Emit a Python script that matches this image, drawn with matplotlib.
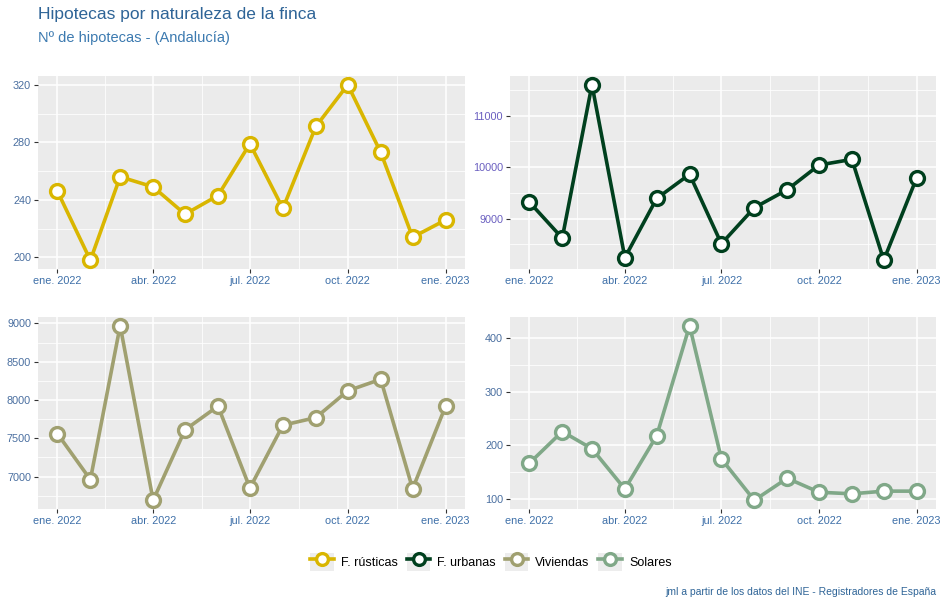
import numpy as np
import pandas as pd
import matplotlib
matplotlib.use("Agg")
import matplotlib.pyplot as plt
import matplotlib.dates as mdates
from matplotlib.lines import Line2D
from matplotlib.patches import Rectangle
from matplotlib.legend_handler import HandlerLine2D

plt.rcParams['font.family'] = ['Liberation Sans', 'DejaVu Sans']

meses = pd.date_range('2022-01-01', '2023-01-01', freq='MS')
tick_labels = ['ene. 2022', 'abr. 2022', 'jul. 2022', 'oct. 2022', 'ene. 2023']

rusticas = [246, 198, 256, 249, 230, 243, 279, 234, 291, 320, 273, 214, 226]
urbanas = [9320, 8620, 11600, 8240, 9390, 9860, 8510, 9210, 9560, 10040, 10150, 8190, 9790]
viviendas = [7560, 6960, 8970, 6690, 7610, 7920, 6850, 7670, 7770, 8120, 8270, 6840, 7920]
solares = [167, 226, 194, 119, 218, 423, 175, 98, 139, 113, 110, 115, 115]

series = ['F. rústicas', 'F. urbanas', 'Viviendas', 'Solares']
colores = ['#D9B600', '#00401E', '#A0A070', '#80A888']
ysteps = [40, 1000, 500, 100]

W, H = 944, 607
fig = plt.figure(figsize=(W/100, H/100), dpi=100)

# panel boxes in pixels (left, top, right, bottom)
boxes = [(38, 76, 465, 269), (510, 76, 936, 269), (38, 317, 465, 509), (510, 317, 936, 509)]
datos = [rusticas, urbanas, viviendas, solares]

xmaj = pd.to_datetime(['2022-01-01', '2022-04-01', '2022-07-01', '2022-10-01', '2023-01-01'])
xnum = mdates.date2num(xmaj)
xminor = [(xnum[i]+xnum[i+1])/2 for i in range(len(xnum)-1)]
x0, x1 = xnum[0], xnum[-1]
xpad = (x1-x0)*0.05

ylab_col = ['#4A6FA0', '#6A5FC0', '#4A6FA0', '#4A6FA0']

for i in range(4):
    l, t, r, b = boxes[i]
    ax = fig.add_axes([l/W, 1-b/H, (r-l)/W, (b-t)/H])
    ax.set_facecolor('#EBEBEB')
    for s in ax.spines.values():
        s.set_visible(False)
    v = datos[i]
    lo, hi = min(v), max(v)
    pad = (hi-lo)*0.05
    ax.set_ylim(lo-pad, hi+pad)
    ax.set_xlim(x0-xpad, x1+xpad)
    st = ysteps[i]
    ymaj = np.arange(np.ceil((lo-pad)/st)*st, hi+pad, st)
    ymin = np.arange(np.ceil((lo-pad)/(st/2))*(st/2), hi+pad, st/2)
    ymin = [y for y in ymin if y not in ymaj]
    ax.set_yticks(ymaj)
    ax.set_yticks(ymin, minor=True)
    ax.set_yticklabels([str(int(y)) for y in ymaj])
    ax.set_xticks(xnum)
    ax.set_xticks(xminor, minor=True)
    ax.set_xticklabels(tick_labels)
    ax.grid(which='major', color='white', lw=1.1)
    ax.grid(which='minor', color='white', lw=0.55)
    ax.set_axisbelow(True)
    ax.tick_params(which='major', length=3, width=0.8, color='#333333', labelsize=7.8, pad=2)
    ax.tick_params(which='minor', length=0)
    ax.tick_params(axis='x', labelcolor='#3D6FA8')
    ax.tick_params(axis='y', labelcolor=ylab_col[i])
    ax.plot(meses, v, color=colores[i], lw=2.6, marker='o', ms=10,
            mfc='white', mec=colores[i], mew=2.4, solid_joinstyle='miter', zorder=3)

fig.text(38/W, 1-15/H, 'Hipotecas por naturaleza de la finca', fontsize=12.5,
         color='#2E6497', va='center', ha='left')
fig.text(38/W, 1-38/H, 'Nº de hipotecas - (Andalucía)', fontsize=10.5,
         color='#3C7AB0', va='center', ha='left')
fig.text(936/W, 1-592/H, 'jml a partir de los datos del INE - Registradores de España',
         fontsize=7.5, color='#2E6497', ha='right', va='center')


class KeyHandler(HandlerLine2D):
    def create_artists(self, legend, orig_handle, xdescent, ydescent, width, height, fontsize, trans):
        rect = Rectangle((-xdescent, -ydescent), width, height,
                         facecolor='#EDEDED', edgecolor='none', transform=trans)
        arts = super().create_artists(legend, orig_handle, xdescent, ydescent, width, height, fontsize, trans)
        return [rect] + list(arts)


handles = [Line2D([], [], color=c, lw=2.6, marker='o', ms=8.5, mfc='white', mec=c, mew=2.4)
           for c in colores]
fig.legend(handles, series, loc='center', bbox_to_anchor=(491/W, 1-562/H),
           bbox_transform=fig.transFigure, ncol=4,
           frameon=False, fontsize=9, handlelength=1.9, handleheight=1.9,
           handletextpad=0.55, columnspacing=0.7, borderaxespad=0, borderpad=0,
           handler_map={Line2D: KeyHandler()})

fig.savefig('out.png', dpi=100)
